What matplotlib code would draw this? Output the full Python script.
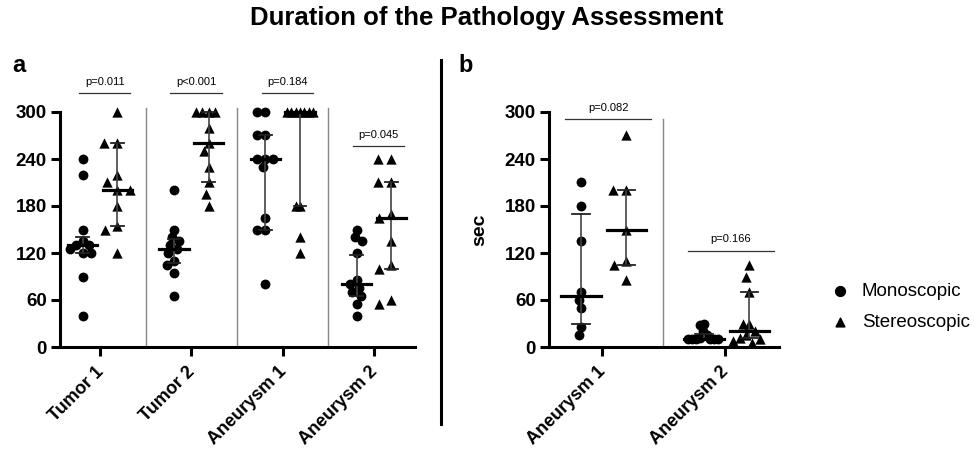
import numpy as np
import matplotlib
matplotlib.use("Agg")
import matplotlib.pyplot as plt
from matplotlib.transforms import ScaledTranslation

plt.rcParams['font.family'] = ['Liberation Sans', 'DejaVu Sans']

# ---- data (seconds) ----
groups_a = ["Tumor 1", "Tumor 2", "Aneurysm 1", "Aneurysm 2"]
mono_a = [
    [240, 220, 150, 135, 130, 130, 125, 120, 120, 90, 40],
    [200, 150, 140, 135, 130, 125, 120, 110, 105, 95, 65],
    [300, 300, 270, 270, 240, 240, 240, 230, 165, 150, 150, 80],
    [150, 140, 135, 120, 85, 80, 75, 70, 65, 55, 40],
]
stereo_a = [
    [300, 260, 260, 220, 210, 200, 200, 180, 155, 150, 120],
    [300, 300, 300, 300, 280, 260, 250, 230, 210, 195, 180],
    [300, 300, 300, 300, 300, 300, 300, 180, 180, 140, 120],
    [240, 240, 210, 210, 170, 165, 135, 105, 100, 60, 55],
]
# median, lower, upper
mono_a_med = [130, 125, 240, 80]
mono_a_lo = [120, 107, 150, 65]
mono_a_hi = [140, 138, 270, 118]
stereo_a_med = [200, 260, 300, 165]
stereo_a_lo = [155, 210, 180, 100]
stereo_a_hi = [260, 300, 300, 210]
pvals_a = ["p=0.011", "p<0.001", "p=0.184", "p=0.045"]
pbar_a = [324, 324, 324, 256]

groups_b = ["Aneurysm 1", "Aneurysm 2"]
mono_b = [
    [210, 180, 135, 70, 60, 50, 25, 15],
    [30, 28, 20, 15, 12, 10, 10, 10, 10, 10, 10],
]
stereo_b = [
    [270, 200, 200, 150, 110, 105, 85],
    [105, 90, 70, 30, 30, 20, 15, 12, 10, 8, 5],
]
mono_b_med = [65, 10]
mono_b_lo = [30, 10]
mono_b_hi = [170, 16]
stereo_b_med = [150, 20]
stereo_b_lo = [105, 12]
stereo_b_hi = [200, 70]
pvals_b = ["p=0.082", "p=0.166"]
pbar_b = [291, 123]

yticks = [0, 60, 120, 180, 240, 300]


def swarm(values, px_x, px_y, d, maxhalf):
    # simple beeswarm in pixel space, then squeezed to a max half width
    vals = np.asarray(values, dtype=float)
    order = np.argsort(-vals, kind='stable')
    placed = []
    offs = np.zeros(len(vals))
    steps = np.arange(0.5, 80, 0.5)
    cands = np.concatenate([[0], np.ravel(np.column_stack([-steps, steps]))])
    for idx in order:
        y = vals[idx] * px_y
        for c in cands:
            if all((px - c) ** 2 + (py - y) ** 2 >= d * d for px, py in placed):
                break
        placed.append((c, y))
        offs[idx] = c
    w = np.abs(offs).max()
    if w > maxhalf:
        offs = offs * maxhalf / w
    return offs / px_x


def draw_panel(ax, groups, mono, stereo, mmed, mlo, mhi, smed, slo, shi,
               pvals, pbar, px_x, sep_top, dm, ds, bar_l, bar_r, maxhalf):
    px_y = 235 / 300.0
    n = len(groups)
    for i in range(n):
        for vals, off, mk, med, lo, hi in [
            (mono[i], dm, 'o', mmed[i], mlo[i], mhi[i]),
            (stereo[i], ds, '^', smed[i], slo[i], shi[i]),
        ]:
            xc = i + off
            d = 8.0 if mk == 'o' else 13.0
            xs = xc + swarm(vals, px_x, px_y, d, maxhalf)
            ax.scatter(xs, vals, marker=mk, s=50 if mk == 'o' else 55,
                       color='black', linewidths=0, zorder=3, clip_on=False)
            ax.plot([xc, xc], [lo, hi], color='#444444', lw=1.2, zorder=4, clip_on=False)
            for yy in (lo, hi):
                ax.plot([xc - 0.07, xc + 0.07], [yy, yy], color='#222222', lw=1.3,
                        zorder=4, clip_on=False)
            ax.plot([xc - 0.16, xc + 0.16], [med, med], color='black', lw=2.3,
                    zorder=5, clip_on=False)
        # significance bar
        ax.plot([i + bar_l, i + bar_r], [pbar[i], pbar[i]], color='#333333', lw=0.9,
                clip_on=False)
        ax.text(i + (bar_l + bar_r) / 2, pbar[i] + 8, pvals[i], ha='center',
                va='bottom', fontsize=8)
        if i < n - 1:
            ax.plot([i + 0.5, i + 0.5], [0, sep_top], color='#888888', lw=1.0,
                    zorder=1, clip_on=False)
    ax.set_ylim(0, 300)
    ax.set_yticks(yticks)
    ax.set_xticks(range(n))
    for s in ('top', 'right'):
        ax.spines[s].set_visible(False)
    for s in ('left', 'bottom'):
        ax.spines[s].set_linewidth(2.2)
    ax.tick_params(axis='both', length=6.5, width=2.2, pad=3)
    ax.set_xticklabels(groups, rotation=45, ha='right', rotation_mode='anchor',
                       fontsize=13, fontweight='bold')
    for lab in ax.get_yticklabels():
        lab.set_fontweight('bold')
        lab.set_fontsize(13.5)
    shift = ScaledTranslation(-5 / 100, -3 / 100, ax.figure.dpi_scale_trans)
    for lab in ax.xaxis.get_majorticklabels():
        lab.set_transform(lab.get_transform() + shift)


fig = plt.figure(figsize=(9.74, 4.53), dpi=100)

ax_a = fig.add_axes([60 / 974, 1 - 347 / 453, 355 / 974, 235 / 453])
draw_panel(ax_a, groups_a, mono_a, stereo_a, mono_a_med, mono_a_lo, mono_a_hi,
           stereo_a_med, stereo_a_lo, stereo_a_hi, pvals_a, pbar_a,
           px_x=91.3, sep_top=305, dm=-0.19, ds=0.19, bar_l=-0.23, bar_r=0.33,
           maxhalf=13)
ax_a.set_xlim(-0.44, 3.45)

ax_b = fig.add_axes([549 / 974, 1 - 347 / 453, 230 / 974, 235 / 453])
draw_panel(ax_b, groups_b, mono_b, stereo_b, mono_b_med, mono_b_lo, mono_b_hi,
           stereo_b_med, stereo_b_lo, stereo_b_hi, pvals_b, pbar_b,
           px_x=123.0, sep_top=291, dm=-0.17, ds=0.2, bar_l=-0.3, bar_r=0.4,
           maxhalf=16)
ax_b.set_xlim(-0.43, 1.44)
ax_b.set_ylabel("sec", fontsize=14, fontweight='bold', labelpad=12)

# legend
ax_b.scatter([], [], marker='o', s=50, color='black', label='Monoscopic')
ax_b.scatter([], [], marker='^', s=40, color='black', label='Stereoscopic')
fig.legend(*ax_b.get_legend_handles_labels(), loc='center left',
           bbox_to_anchor=(826 / 974, 1 - 307 / 453), frameon=False, fontsize=13.5,
           handletextpad=0.4, labelspacing=0.75, borderpad=0, borderaxespad=0,
           handlelength=1.5)

# divider
fig.add_artist(plt.Line2D([441 / 974, 441 / 974], [1 - 424 / 453, 1 - 60 / 453],
                          color='black', lw=2.2))

fig.text(0.5, 1 - 18 / 453, "Duration of the Pathology Assessment", ha='center',
         va='center', fontsize=18.5, fontweight='bold')
fig.text(12 / 974, 1 - 66 / 453, "a", ha='left', va='center', fontsize=17, fontweight='bold')
fig.text(458 / 974, 1 - 66 / 453, "b", ha='left', va='center', fontsize=17, fontweight='bold')

fig.savefig("out.png", dpi=100)
